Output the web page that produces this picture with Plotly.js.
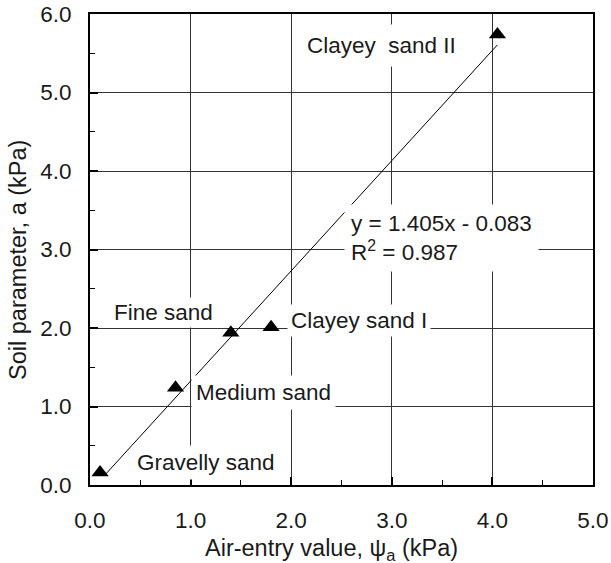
<!DOCTYPE html>
<html>
<head>
<meta charset="utf-8">
<script src="https://cdn.plot.ly/plotly-3.0.1.min.js"></script>
<style>html,body{margin:0;padding:0;background:#fff}#chart{width:611px;height:563px}</style>
</head>
<body>
<div id="chart"></div>
<script>
// Data
const soilNames = ["Gravelly sand", "Medium sand", "Fine sand", "Clayey sand I", "Clayey  sand II"];
const airEntry = [0.10, 0.85, 1.40, 1.80, 4.05];        // psi_a (kPa)
const soilParamA = [0.16, 1.24, 1.94, 2.01, 5.74];      // a (kPa)
const fitX = [0.15, 4.05];
const fitY = [0.13, 5.607];
const fitLabel = "y = 1.405x - 0.083<br>R<sup>2</sup> = 0.987";
const xTitle = "Air-entry value, \u03C8<sub>a</sub> (kPa)";
const yTitle = "Soil parameter, a (kPa)";
const xTicks = [0, 1, 2, 3, 4, 5];
const xTickText = ["0.0", "1.0", "2.0", "3.0", "4.0", "5.0"];
const yTicks = [0, 1, 2, 3, 4, 5, 6];
const yTickText = ["0.0", "1.0", "2.0", "3.0", "4.0", "5.0", "6.0"];

const FONT = "Liberation Sans, Arial, Helvetica, sans-serif";
const FS = 22.5;
const TFS = 23.5;
const TXT = "#1a1a1a";

const traces = [
  {
    x: fitX, y: fitY, type: "scatter", mode: "lines",
    line: {color: "#000", width: 1}, hoverinfo: "skip", showlegend: false
  },
  {
    x: airEntry, y: soilParamA, type: "scatter", mode: "markers",
    marker: {symbol: "triangle-up", size: 15, color: "#000"},
    text: soilNames, showlegend: false
  }
];

function ann(text, x, y, xanchor, extra) {
  return Object.assign({
    text: text, x: x, y: y, xref: "x", yref: "y", xanchor: xanchor, yanchor: "middle",
    showarrow: false, bgcolor: "#fff", borderpad: 4,
    font: {family: FONT, size: FS, color: TXT}
  }, extra || {});
}

const annotations = [
  ann(soilNames[0], 0.42, 0.29, "left"),
  ann(soilNames[1], 1.00, 1.18, "left"),
  ann(soilNames[2], 0.735, 2.20, "center", {borderpad: 2}),
  ann(soilNames[3], 1.96, 2.09, "left", {borderpad: 3}),
  ann(soilNames[4], 2.90, 5.60, "center", {borderpad: 8}),
  ann(fitLabel, 2.52, 3.15, "left", {align: "left", borderpad: 6}),
  {text: xTitle, xref: "paper", yref: "paper", x: 0.481, y: -0.136, xanchor: "center", yanchor: "middle",
   showarrow: false, font: {family: FONT, size: TFS, color: TXT}},
  {text: yTitle, xref: "paper", yref: "paper", x: -0.143, y: 0.478, xanchor: "center", yanchor: "middle",
   textangle: -90, showarrow: false, font: {family: FONT, size: TFS, color: TXT}}
];

const axisCommon = {
  showline: true, mirror: true, linecolor: "#000", linewidth: 2,
  ticks: "inside", ticklen: 8, tickwidth: 2, tickcolor: "#000",
  showgrid: true, gridcolor: "#333", gridwidth: 1,
  zeroline: false,
  tickfont: {family: FONT, size: FS, color: TXT},
  minor: {dtick: 0.5, ticks: "inside", ticklen: 5, tickwidth: 1, tickcolor: "#000", showgrid: false}
};

const layout = {
  width: 611, height: 563,
  margin: {l: 90, r: 18, t: 14, b: 78},
  paper_bgcolor: "#fff", plot_bgcolor: "#fff",
  font: {family: FONT, size: FS, color: TXT},
  xaxis: Object.assign({}, axisCommon, {
    range: [0, 5], tickmode: "array", tickvals: xTicks, ticktext: xTickText,
    ticklabelstandoff: 14
  }),
  yaxis: Object.assign({}, axisCommon, {
    range: [0, 6], tickmode: "array", tickvals: yTicks, ticktext: yTickText,
    ticklabelstandoff: 12
  }),
  annotations: annotations,
  showlegend: false
};

Plotly.newPlot("chart", traces, layout, {displayModeBar: false, staticPlot: true});
</script>
</body>
</html>
